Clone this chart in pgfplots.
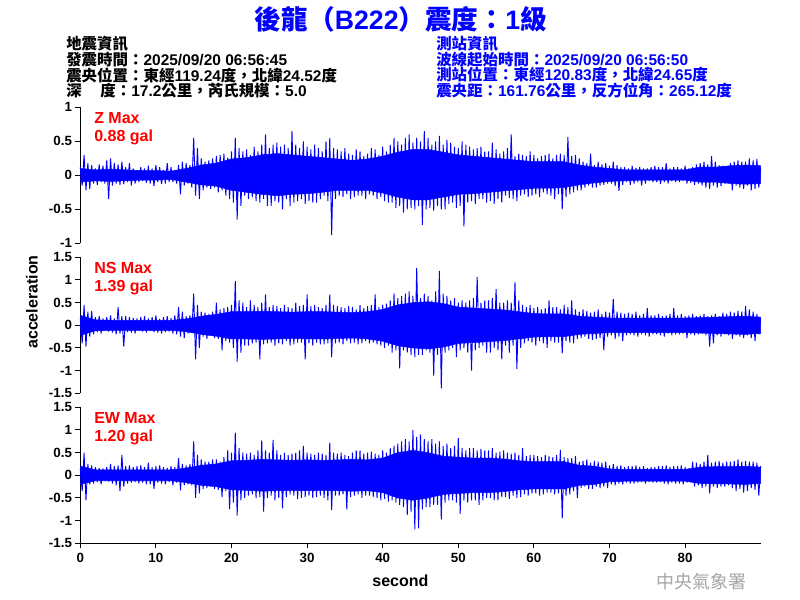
\documentclass[border=0pt]{standalone}
\usepackage{fontspec}
\setmainfont{Liberation Sans}
\newfontfamily\cjk{Noto Sans CJK TC}
\usepackage{pgfplots}
\pgfplotsset{compat=1.18}
\newcommand{\C}[1]{{\cjk #1}}
\definecolor{wmgray}{RGB}{165,165,165}
\pgfplotsset{
  wave/.style={
    scale only axis, width=510.3pt, height=102pt,
    xmin=0, xmax=90, anchor=north west,
    axis y line*=left,
    tick align=outside,
    major tick length=3.75pt,
    every tick/.style={black, line width=0.75pt},
    axis line style={black, line width=0.75pt},
    ticklabel style={font=\fontsize{10}{12}\selectfont\bfseries},
    yticklabel style={xshift=1pt},
    clip=false,
  },
  wave13/.style={wave, ymin=-1.5, ymax=1.5, ytick={-1.5,-1,-0.5,0,0.5,1,1.5},
    yticklabels={-1.5,-1,-0.5,0,0.5,1,1.5}},
  trace/.style={blue, line width=0.7pt, line join=bevel},
  core/.style={fill=blue, draw=blue, line width=0.4pt},
}
\begin{document}
\begin{tikzpicture}
\path[use as bounding box] (0pt,0pt) rectangle (600pt,-450pt);

% ---------------- Z ----------------
\begin{axis}[wave, at={(60.225pt,-80.475pt)}, ymin=-1, ymax=1, ytick={-1,-0.5,0,0.5,1},
  yticklabels={-1,-0.5,0,0.5,1}, axis x line=none]
% dense core of the trace (upper edge, then lower edge back)
\addplot[core] coordinates {
(0,0.10)(2,0.08)(4,0.09)(6,0.08)(8,0.07)(10,0.07)(12,0.06)(14,0.10)(16,0.15)(18,0.18)
(20,0.24)(22,0.26)(24,0.30)(26,0.32)(28,0.30)(30,0.28)(32,0.26)(34,0.24)(36,0.22)(38,0.24)
(40,0.28)(42,0.34)(44,0.38)(46,0.38)(48,0.34)(50,0.30)(52,0.28)(54,0.26)(56,0.24)(58,0.22)
(60,0.20)(62,0.20)(64,0.20)(66,0.15)(68,0.12)(70,0.10)(72,0.08)(74,0.08)(76,0.08)(78,0.08)
(80,0.08)(82,0.12)(84,0.12)(86,0.14)(88,0.15)(90,0.14)
(90,-0.12)(88,-0.13)(86,-0.12)(84,-0.10)(82,-0.10)(80,-0.07)(78,-0.07)(76,-0.07)(74,-0.07)(72,-0.08)
(70,-0.09)(68,-0.11)(66,-0.14)(64,-0.18)(62,-0.19)(60,-0.19)(58,-0.21)(56,-0.23)(54,-0.25)(52,-0.27)
(50,-0.28)(48,-0.32)(46,-0.36)(44,-0.36)(42,-0.32)(40,-0.26)(38,-0.22)(36,-0.22)(34,-0.22)(32,-0.25)
(30,-0.27)(28,-0.28)(26,-0.30)(24,-0.28)(22,-0.25)(20,-0.22)(18,-0.16)(16,-0.14)(14,-0.10)(12,-0.06)
(10,-0.07)(8,-0.07)(6,-0.08)(4,-0.09)(2,-0.08)(0,-0.10)
};
\addplot[trace] coordinates {
(0,0.12)(0.25,-0.15)(0.5,0.30)(0.75,-0.22)
(1,0.18)(1.25,-0.20)(1.5,0.15)(1.75,-0.12)
(2,0.10)(2.25,-0.14)(2.5,0.16)(2.75,-0.10)
(3,0.14)(3.25,-0.12)(3.5,0.22)(3.75,-0.35)
(4,0.25)(4.25,-0.15)(4.5,0.18)(4.75,-0.12)
(5,0.16)(5.25,-0.14)(5.5,0.20)(5.75,-0.13)
(6,0.12)(6.25,-0.10)(6.5,0.18)(6.75,-0.15)
(7,0.10)(7.25,-0.12)(7.5,0.08)(7.75,-0.10)
(8,0.12)(8.25,-0.08)(8.5,0.10)(8.75,-0.11)
(9,0.14)(9.25,-0.12)(9.5,0.10)(9.75,-0.16)
(10,0.15)(10.25,-0.10)(10.5,0.12)(10.75,-0.13)
(11,0.08)(11.25,-0.12)(11.5,0.18)(11.75,-0.10)
(12,0.12)(12.25,-0.10)(12.5,0.08)(12.75,-0.12)
(13,0.15)(13.25,-0.28)(13.5,0.20)(13.75,-0.15)
(14,0.18)(14.25,-0.12)(14.5,0.15)(14.75,-0.18)
(15,0.55)(15.25,-0.30)(15.5,0.40)(15.75,-0.35)
(16,0.25)(16.25,-0.22)(16.5,0.20)(16.75,-0.18)
(17,0.22)(17.25,-0.20)(17.5,0.25)(17.75,-0.18)
(18,0.28)(18.25,-0.25)(18.5,0.30)(18.75,-0.22)
(19,0.32)(19.25,-0.30)(19.5,0.26)(19.75,-0.35)
(20,0.35)(20.25,-0.40)(20.5,0.55)(20.75,-0.65)
(21,0.40)(21.25,-0.45)(21.5,0.35)(21.75,-0.30)
(22,0.38)(22.25,-0.35)(22.5,0.30)(22.75,-0.32)
(23,0.42)(23.25,-0.38)(23.5,0.35)(23.75,-0.40)
(24,0.45)(24.25,-0.35)(24.5,0.60)(24.75,-0.45)
(25,0.40)(25.25,-0.45)(25.5,0.45)(25.75,-0.38)
(26,0.48)(26.25,-0.40)(26.5,0.42)(26.75,-0.50)
(27,0.45)(27.25,-0.35)(27.5,0.40)(27.75,-0.45)
(28,0.65)(28.25,-0.40)(28.5,0.45)(28.75,-0.38)
(29,0.40)(29.25,-0.35)(29.5,0.50)(29.75,-0.42)
(30,0.42)(30.25,-0.38)(30.5,0.38)(30.75,-0.40)
(31,0.45)(31.25,-0.40)(31.5,0.40)(31.75,-0.35)
(32,0.35)(32.25,-0.30)(32.5,0.50)(32.75,-0.38)
(33,0.55)(33.25,-0.88)(33.5,0.40)(33.75,-0.35)
(34,0.38)(34.25,-0.30)(34.5,0.35)(34.75,-0.32)
(35,0.40)(35.25,-0.28)(35.5,0.32)(35.75,-0.35)
(36,0.30)(36.25,-0.32)(36.5,0.38)(36.75,-0.30)
(37,0.35)(37.25,-0.30)(37.5,0.28)(37.75,-0.35)
(38,0.32)(38.25,-0.28)(38.5,0.40)(38.75,-0.30)
(39,0.38)(39.25,-0.35)(39.5,0.30)(39.75,-0.32)
(40,0.42)(40.25,-0.38)(40.5,0.35)(40.75,-0.40)
(41,0.45)(41.25,-0.40)(41.5,0.55)(41.75,-0.48)
(42,0.50)(42.25,-0.45)(42.5,0.45)(42.75,-0.55)
(43,0.55)(43.25,-0.50)(43.5,0.60)(43.75,-0.48)
(44,0.48)(44.25,-0.50)(44.5,0.55)(44.75,-0.45)
(45,0.50)(45.25,-0.73)(45.5,0.65)(45.75,-0.50)
(46,0.55)(46.25,-0.48)(46.5,0.45)(46.75,-0.52)
(47,0.50)(47.25,-0.45)(47.5,0.58)(47.75,-0.50)
(48,0.45)(48.25,-0.50)(48.5,0.52)(48.75,-0.42)
(49,0.48)(49.25,-0.40)(49.5,0.42)(49.75,-0.48)
(50,0.40)(50.25,-0.45)(50.5,0.50)(50.75,-0.75)
(51,0.45)(51.25,-0.40)(51.5,0.42)(51.75,-0.38)
(52,0.38)(52.25,-0.42)(52.5,0.40)(52.75,-0.35)
(53,0.42)(53.25,-0.35)(53.5,0.35)(53.75,-0.40)
(54,0.35)(54.25,-0.38)(54.5,0.48)(54.75,-0.42)
(55,0.38)(55.25,-0.35)(55.5,0.32)(55.75,-0.40)
(56,0.35)(56.25,-0.30)(56.5,0.40)(56.75,-0.33)
(57,0.60)(57.25,-0.35)(57.5,0.28)(57.75,-0.38)
(58,0.32)(58.25,-0.30)(58.5,0.30)(58.75,-0.28)
(59,0.28)(59.25,-0.32)(59.5,0.35)(59.75,-0.30)
(60,0.30)(60.25,-0.28)(60.5,0.25)(60.75,-0.32)
(61,0.28)(61.25,-0.25)(61.5,0.30)(61.75,-0.28)
(62,0.32)(62.25,-0.30)(62.5,0.25)(62.75,-0.35)
(63,0.30)(63.25,-0.28)(63.5,0.32)(63.75,-0.50)
(64,0.30)(64.25,-0.32)(64.5,0.56)(64.75,-0.28)
(65,0.28)(65.25,-0.25)(65.5,0.30)(65.75,-0.22)
(66,0.25)(66.25,-0.22)(66.5,0.20)(66.75,-0.18)
(67,0.18)(67.25,-0.15)(67.5,0.32)(67.75,-0.18)
(68,0.15)(68.25,-0.18)(68.5,0.20)(68.75,-0.15)
(69,0.16)(69.25,-0.14)(69.5,0.18)(69.75,-0.12)
(70,0.14)(70.25,-0.12)(70.5,0.20)(70.75,-0.16)
(71,0.15)(71.25,-0.23)(71.5,0.12)(71.75,-0.14)
(72,0.12)(72.25,-0.10)(72.5,0.10)(72.75,-0.14)
(73,0.14)(73.25,-0.12)(73.5,0.11)(73.75,-0.10)
(74,0.12)(74.25,-0.15)(74.5,0.10)(74.75,-0.12)
(75,0.10)(75.25,-0.08)(75.5,0.12)(75.75,-0.10)
(76,0.14)(76.25,-0.10)(76.5,0.12)(76.75,-0.13)
(77,0.12)(77.25,-0.10)(77.5,0.18)(77.75,-0.12)
(78,0.10)(78.25,-0.09)(78.5,0.12)(78.75,-0.10)
(79,0.12)(79.25,-0.10)(79.5,0.10)(79.75,-0.08)
(80,0.14)(80.25,-0.12)(80.5,0.10)(80.75,-0.11)
(81,0.12)(81.25,-0.14)(81.5,0.16)(81.75,-0.12)
(82,0.18)(82.25,-0.15)(82.5,0.20)(82.75,-0.18)
(83,0.16)(83.25,-0.20)(83.5,0.28)(83.75,-0.15)
(84,0.20)(84.25,-0.18)(84.5,0.15)(84.75,-0.16)
(85,0.14)(85.25,-0.12)(85.5,0.12)(85.75,-0.10)
(86,0.18)(86.25,-0.22)(86.5,0.20)(86.75,-0.15)
(87,0.22)(87.25,-0.18)(87.5,0.20)(87.75,-0.20)
(88,0.20)(88.25,-0.15)(88.5,0.25)(88.75,-0.22)
(89,0.22)(89.25,-0.20)(89.5,0.24)(89.75,-0.18)
(90,0.10)
};
\end{axis}

% ---------------- NS ----------------
\begin{axis}[wave13, at={(60.225pt,-192.975pt)}, axis x line=none]
\addplot[core] coordinates {
(0,0.22)(2,0.12)(4,0.11)(6,0.11)(8,0.11)(10,0.11)(12,0.11)(14,0.14)(16,0.20)(18,0.24)
(20,0.30)(22,0.30)(24,0.31)(26,0.30)(28,0.29)(30,0.30)(32,0.30)(34,0.29)(36,0.28)(38,0.30)
(40,0.35)(42,0.45)(44,0.50)(46,0.52)(48,0.48)(50,0.40)(52,0.38)(54,0.36)(56,0.34)(58,0.30)
(60,0.26)(62,0.25)(64,0.25)(66,0.20)(68,0.18)(70,0.16)(72,0.16)(74,0.16)(76,0.16)(78,0.16)
(80,0.16)(82,0.17)(84,0.18)(86,0.19)(88,0.20)(90,0.18)
(90,-0.18)(88,-0.20)(86,-0.19)(84,-0.18)(82,-0.17)(80,-0.16)(78,-0.16)(76,-0.16)(74,-0.16)(72,-0.16)
(70,-0.16)(68,-0.18)(66,-0.20)(64,-0.25)(62,-0.25)(60,-0.26)(58,-0.30)(56,-0.34)(54,-0.36)(52,-0.38)
(50,-0.40)(48,-0.48)(46,-0.52)(44,-0.50)(42,-0.45)(40,-0.35)(38,-0.30)(36,-0.28)(34,-0.29)(32,-0.30)
(30,-0.30)(28,-0.29)(26,-0.30)(24,-0.31)(22,-0.30)(20,-0.30)(18,-0.24)(16,-0.20)(14,-0.14)(12,-0.11)
(10,-0.11)(8,-0.11)(6,-0.11)(4,-0.11)(2,-0.12)(0,-0.22)
};
\addplot[trace] coordinates {
(0,0.15)(0.25,-0.40)(0.5,0.45)(0.75,-0.47)
(1,0.30)(1.25,-0.25)(1.5,0.32)(1.75,-0.20)
(2,0.18)(2.25,-0.15)(2.5,0.20)(2.75,-0.18)
(3,0.15)(3.25,-0.12)(3.5,0.18)(3.75,-0.14)
(4,0.22)(4.25,-0.16)(4.5,0.15)(4.75,-0.20)
(5,0.40)(5.25,-0.18)(5.5,0.20)(5.75,-0.47)
(6,0.20)(6.25,-0.15)(6.5,0.18)(6.75,-0.16)
(7,0.16)(7.25,-0.18)(7.5,0.15)(7.75,-0.12)
(8,0.18)(8.25,-0.14)(8.5,0.20)(8.75,-0.16)
(9,0.15)(9.25,-0.12)(9.5,0.18)(9.75,-0.15)
(10,0.22)(10.25,-0.16)(10.5,0.14)(10.75,-0.18)
(11,0.18)(11.25,-0.15)(11.5,0.20)(11.75,-0.14)
(12,0.16)(12.25,-0.18)(12.5,0.22)(12.75,-0.20)
(13,0.40)(13.25,-0.25)(13.5,0.30)(13.75,-0.28)
(14,0.20)(14.25,-0.18)(14.5,0.22)(14.75,-0.16)
(15,0.70)(15.25,-0.75)(15.5,0.45)(15.75,-0.50)
(16,0.30)(16.25,-0.25)(16.5,0.28)(16.75,-0.30)
(17,0.25)(17.25,-0.22)(17.5,0.30)(17.75,-0.28)
(18,0.50)(18.25,-0.30)(18.5,0.35)(18.75,-0.55)
(19,0.38)(19.25,-0.35)(19.5,0.40)(19.75,-0.38)
(20,0.45)(20.25,-0.50)(20.5,0.98)(20.75,-0.80)
(21,0.55)(21.25,-0.60)(21.5,0.50)(21.75,-0.45)
(22,0.40)(22.25,-0.45)(22.5,0.55)(22.75,-0.40)
(23,0.45)(23.25,-0.38)(23.5,0.40)(23.75,-0.75)
(24,0.50)(24.25,-0.42)(24.5,0.68)(24.75,-0.40)
(25,0.40)(25.25,-0.38)(25.5,0.45)(25.75,-0.45)
(26,0.42)(26.25,-0.40)(26.5,0.38)(26.75,-0.42)
(27,0.45)(27.25,-0.35)(27.5,0.40)(27.75,-0.45)
(28,0.38)(28.25,-0.42)(28.5,0.50)(28.75,-0.38)
(29,0.42)(29.25,-0.38)(29.5,0.45)(29.75,-0.75)
(30,0.68)(30.25,-0.40)(30.5,0.42)(30.75,-0.45)
(31,0.45)(31.25,-0.38)(31.5,0.40)(31.75,-0.42)
(32,0.38)(32.25,-0.42)(32.5,0.45)(32.75,-0.40)
(33,0.68)(33.25,-0.70)(33.5,0.45)(33.75,-0.40)
(34,0.42)(34.25,-0.38)(34.5,0.40)(34.75,-0.42)
(35,0.38)(35.25,-0.35)(35.5,0.42)(35.75,-0.40)
(36,0.40)(36.25,-0.38)(36.5,0.35)(36.75,-0.42)
(37,0.45)(37.25,-0.40)(37.5,0.38)(37.75,-0.35)
(38,0.42)(38.25,-0.40)(38.5,0.45)(38.75,-0.38)
(39,0.68)(39.25,-0.42)(39.5,0.40)(39.75,-0.45)
(40,0.45)(40.25,-0.50)(40.5,0.48)(40.75,-0.45)
(41,0.55)(41.25,-0.60)(41.5,0.70)(41.75,-0.55)
(42,0.60)(42.25,-0.95)(42.5,0.65)(42.75,-0.55)
(43,0.70)(43.25,-0.60)(43.5,0.75)(43.75,-0.65)
(44,0.65)(44.25,-0.70)(44.5,1.26)(44.75,-0.65)
(45,0.60)(45.25,-0.65)(45.5,0.70)(45.75,-0.55)
(46,0.65)(46.25,-0.60)(46.5,0.55)(46.75,-1.11)
(47,0.75)(47.25,-0.65)(47.5,1.20)(47.75,-1.39)
(48,0.70)(48.25,-0.60)(48.5,0.65)(48.75,-0.55)
(49,0.55)(49.25,-0.50)(49.5,0.60)(49.75,-0.70)
(50,0.50)(50.25,-0.55)(50.5,0.55)(50.75,-0.50)
(51,0.50)(51.25,-0.60)(51.5,0.55)(51.75,-1.00)
(52,0.60)(52.25,-0.55)(52.5,1.07)(52.75,-0.50)
(53,0.50)(53.25,-0.45)(53.5,0.55)(53.75,-0.60)
(54,0.55)(54.25,-0.60)(54.5,0.60)(54.75,-0.50)
(55,0.80)(55.25,-0.55)(55.5,0.50)(55.75,-0.75)
(56,0.50)(56.25,-0.45)(56.5,0.55)(56.75,-0.60)
(57,0.50)(57.25,-0.45)(57.5,0.95)(57.75,-0.96)
(58,0.55)(58.25,-0.50)(58.5,0.45)(58.75,-0.40)
(59,0.40)(59.25,-0.35)(59.5,0.45)(59.75,-0.38)
(60,0.38)(60.25,-0.45)(60.5,0.40)(60.75,-0.35)
(61,0.35)(61.25,-0.40)(61.5,0.38)(61.75,-0.50)
(62,0.55)(62.25,-0.35)(62.5,0.40)(62.75,-0.38)
(63,0.40)(63.25,-0.38)(63.5,0.35)(63.75,-0.62)
(64,0.45)(64.25,-0.35)(64.5,0.40)(64.75,-0.38)
(65,0.55)(65.25,-0.40)(65.5,0.35)(65.75,-0.30)
(66,0.30)(66.25,-0.28)(66.5,0.35)(66.75,-0.25)
(67,0.32)(67.25,-0.30)(67.5,0.28)(67.75,-0.32)
(68,0.30)(68.25,-0.30)(68.5,0.35)(68.75,-0.28)
(69,0.25)(69.25,-0.55)(69.5,0.30)(69.75,-0.25)
(70,0.28)(70.25,-0.22)(70.5,0.58)(70.75,-0.30)
(71,0.30)(71.25,-0.25)(71.5,0.28)(71.75,-0.35)
(72,0.25)(72.25,-0.22)(72.5,0.28)(72.75,-0.20)
(73,0.25)(73.25,-0.22)(73.5,0.30)(73.75,-0.25)
(74,0.22)(74.25,-0.20)(74.5,0.25)(74.75,-0.22)
(75,0.38)(75.25,-0.25)(75.5,0.22)(75.75,-0.20)
(76,0.22)(76.25,-0.20)(76.5,0.25)(76.75,-0.22)
(77,0.20)(77.25,-0.25)(77.5,0.22)(77.75,-0.18)
(78,0.25)(78.25,-0.22)(78.5,0.38)(78.75,-0.20)
(79,0.22)(79.25,-0.20)(79.5,0.25)(79.75,-0.18)
(80,0.20)(80.25,-0.28)(80.5,0.22)(80.75,-0.20)
(81,0.25)(81.25,-0.22)(81.5,0.20)(81.75,-0.20)
(82,0.22)(82.25,-0.18)(82.5,0.25)(82.75,-0.22)
(83,0.20)(83.25,-0.47)(83.5,0.22)(83.75,-0.40)
(84,0.25)(84.25,-0.22)(84.5,0.20)(84.75,-0.25)
(85,0.28)(85.25,-0.20)(85.5,0.25)(85.75,-0.22)
(86,0.30)(86.25,-0.30)(86.5,0.28)(86.75,-0.22)
(87,0.32)(87.25,-0.25)(87.5,0.30)(87.75,-0.28)
(88,0.42)(88.25,-0.22)(88.5,0.35)(88.75,-0.28)
(89,0.30)(89.25,-0.35)(89.5,0.25)(89.75,-0.20)
(90,0.15)
};
\end{axis}

% ---------------- EW ----------------
\begin{axis}[wave13, at={(60.225pt,-305.475pt)}, axis x line*=bottom,
  xtick={0,10,20,30,40,50,60,70,80}, xticklabels={0,10,20,30,40,50,60,70,80}]
\addplot[core] coordinates {
(0,0.20)(2,0.12)(4,0.12)(6,0.12)(8,0.12)(10,0.12)(12,0.12)(14,0.16)(16,0.22)(18,0.25)
(20,0.32)(22,0.33)(24,0.35)(26,0.34)(28,0.33)(30,0.34)(32,0.33)(34,0.34)(36,0.35)(38,0.34)
(40,0.38)(42,0.50)(44,0.55)(46,0.50)(48,0.42)(50,0.40)(52,0.38)(54,0.38)(56,0.36)(58,0.32)
(60,0.30)(62,0.30)(64,0.30)(66,0.22)(68,0.20)(70,0.14)(72,0.13)(74,0.13)(76,0.13)(78,0.13)
(80,0.13)(82,0.18)(84,0.19)(86,0.19)(88,0.20)(90,0.18)
(90,-0.18)(88,-0.20)(86,-0.19)(84,-0.19)(82,-0.18)(80,-0.13)(78,-0.13)(76,-0.13)(74,-0.13)(72,-0.13)
(70,-0.14)(68,-0.20)(66,-0.22)(64,-0.30)(62,-0.30)(60,-0.30)(58,-0.32)(56,-0.36)(54,-0.38)(52,-0.38)
(50,-0.40)(48,-0.42)(46,-0.50)(44,-0.55)(42,-0.50)(40,-0.38)(38,-0.34)(36,-0.35)(34,-0.34)(32,-0.33)
(30,-0.34)(28,-0.33)(26,-0.34)(24,-0.35)(22,-0.33)(20,-0.32)(18,-0.25)(16,-0.22)(14,-0.16)(12,-0.12)
(10,-0.12)(8,-0.12)(6,-0.12)(4,-0.12)(2,-0.12)(0,-0.20)
};
\addplot[trace] coordinates {
(0,0.15)(0.25,-0.35)(0.5,0.50)(0.75,-0.55)
(1,0.25)(1.25,-0.20)(1.5,0.22)(1.75,-0.18)
(2,0.18)(2.25,-0.15)(2.5,0.16)(2.75,-0.20)
(3,0.15)(3.25,-0.12)(3.5,0.18)(3.75,-0.14)
(4,0.25)(4.25,-0.18)(4.5,0.20)(4.75,-0.22)
(5,0.22)(5.25,-0.35)(5.5,0.45)(5.75,-0.25)
(6,0.20)(6.25,-0.18)(6.5,0.22)(6.75,-0.16)
(7,0.18)(7.25,-0.15)(7.5,0.20)(7.75,-0.18)
(8,0.22)(8.25,-0.16)(8.5,0.18)(8.75,-0.20)
(9,0.28)(9.25,-0.20)(9.5,0.18)(9.75,-0.30)
(10,0.20)(10.25,-0.16)(10.5,0.22)(10.75,-0.18)
(11,0.18)(11.25,-0.20)(11.5,0.16)(11.75,-0.15)
(12,0.20)(12.25,-0.22)(12.5,0.18)(12.75,-0.16)
(13,0.38)(13.25,-0.33)(13.5,0.25)(13.75,-0.22)
(14,0.22)(14.25,-0.20)(14.5,0.25)(14.75,-0.22)
(15,0.75)(15.25,-0.50)(15.5,0.45)(15.75,-0.40)
(16,0.35)(16.25,-0.30)(16.5,0.30)(16.75,-0.28)
(17,0.30)(17.25,-0.25)(17.5,0.35)(17.75,-0.30)
(18,0.35)(18.25,-0.32)(18.5,0.30)(18.75,-0.48)
(19,0.40)(19.25,-0.35)(19.5,0.55)(19.75,-0.75)
(20,0.50)(20.25,-0.60)(20.5,0.94)(20.75,-0.89)
(21,0.60)(21.25,-0.55)(21.5,0.50)(21.75,-0.50)
(22,0.48)(22.25,-0.45)(22.5,0.50)(22.75,-0.42)
(23,0.45)(23.25,-0.50)(23.5,0.55)(23.75,-0.48)
(24,0.77)(24.25,-0.80)(24.5,0.55)(24.75,-0.50)
(25,0.50)(25.25,-0.45)(25.5,0.78)(25.75,-0.55)
(26,0.55)(26.25,-0.50)(26.5,0.45)(26.75,-0.73)
(27,0.50)(27.25,-0.48)(27.5,0.45)(27.75,-0.42)
(28,0.48)(28.25,-0.45)(28.5,0.50)(28.75,-0.52)
(29,0.55)(29.25,-0.50)(29.5,0.65)(29.75,-0.48)
(30,0.50)(30.25,-0.45)(30.5,0.48)(30.75,-0.50)
(31,0.45)(31.25,-0.48)(31.5,0.50)(31.75,-0.45)
(32,0.48)(32.25,-0.50)(32.5,0.45)(32.75,-0.55)
(33,0.72)(33.25,-0.77)(33.5,0.50)(33.75,-0.45)
(34,0.48)(34.25,-0.45)(34.5,0.50)(34.75,-0.42)
(35,0.45)(35.25,-0.75)(35.5,0.42)(35.75,-0.48)
(36,0.50)(36.25,-0.45)(36.5,0.55)(36.75,-0.42)
(37,0.55)(37.25,-0.50)(37.5,0.48)(37.75,-0.45)
(38,0.50)(38.25,-0.45)(38.5,0.52)(38.75,-0.48)
(39,0.48)(39.25,-0.50)(39.5,0.45)(39.75,-0.55)
(40,0.55)(40.25,-0.52)(40.5,0.50)(40.75,-0.58)
(41,0.60)(41.25,-0.55)(41.5,0.65)(41.75,-0.60)
(42,0.70)(42.25,-0.65)(42.5,0.75)(42.75,-0.70)
(43,0.80)(43.25,-0.88)(43.5,0.75)(43.75,-0.80)
(44,1.00)(44.25,-1.19)(44.5,0.85)(44.75,-1.17)
(45,0.90)(45.25,-0.75)(45.5,0.80)(45.75,-0.70)
(46,0.75)(46.25,-0.70)(46.5,0.80)(46.75,-0.65)
(47,0.70)(47.25,-0.65)(47.5,0.75)(47.75,-0.97)
(48,0.65)(48.25,-0.60)(48.5,0.70)(48.75,-0.55)
(49,0.60)(49.25,-0.55)(49.5,0.65)(49.75,-0.60)
(50,0.82)(50.25,-0.85)(50.5,0.60)(50.75,-0.55)
(51,0.55)(51.25,-0.60)(51.5,0.60)(51.75,-0.55)
(52,0.60)(52.25,-0.55)(52.5,0.55)(52.75,-0.65)
(53,0.58)(53.25,-0.55)(53.5,0.55)(53.75,-0.50)
(54,0.55)(54.25,-0.50)(54.5,0.60)(54.75,-0.55)
(55,0.50)(55.25,-0.55)(55.5,0.52)(55.75,-0.48)
(56,0.55)(56.25,-0.48)(56.5,0.50)(56.75,-0.52)
(57,0.48)(57.25,-0.45)(57.5,0.50)(57.75,-0.50)
(58,0.45)(58.25,-0.48)(58.5,0.60)(58.75,-0.42)
(59,0.42)(59.25,-0.45)(59.5,0.45)(59.75,-0.40)
(60,0.45)(60.25,-0.40)(60.5,0.42)(60.75,-0.45)
(61,0.40)(61.25,-0.42)(61.5,0.45)(61.75,-0.38)
(62,0.42)(62.25,-0.38)(62.5,0.40)(62.75,-0.42)
(63,0.45)(63.25,-0.40)(63.5,0.56)(63.75,-0.95)
(64,0.40)(64.25,-0.45)(64.5,0.38)(64.75,-0.42)
(65,0.38)(65.25,-0.35)(65.5,0.42)(65.75,-0.50)
(66,0.30)(66.25,-0.28)(66.5,0.32)(66.75,-0.25)
(67,0.35)(67.25,-0.30)(67.5,0.28)(67.75,-0.30)
(68,0.32)(68.25,-0.25)(68.5,0.30)(68.75,-0.28)
(69,0.28)(69.25,-0.25)(69.5,0.30)(69.75,-0.28)
(70,0.22)(70.25,-0.20)(70.5,0.25)(70.75,-0.22)
(71,0.20)(71.25,-0.18)(71.5,0.22)(71.75,-0.20)
(72,0.18)(72.25,-0.16)(72.5,0.20)(72.75,-0.18)
(73,0.20)(73.25,-0.18)(73.5,0.22)(73.75,-0.16)
(74,0.18)(74.25,-0.15)(74.5,0.20)(74.75,-0.18)
(75,0.16)(75.25,-0.15)(75.5,0.18)(75.75,-0.16)
(76,0.18)(76.25,-0.16)(76.5,0.20)(76.75,-0.15)
(77,0.20)(77.25,-0.18)(77.5,0.22)(77.75,-0.20)
(78,0.18)(78.25,-0.16)(78.5,0.20)(78.75,-0.18)
(79,0.20)(79.25,-0.18)(79.5,0.22)(79.75,-0.20)
(80,0.18)(80.25,-0.16)(80.5,0.15)(80.75,-0.15)
(81,0.30)(81.25,-0.25)(81.5,0.28)(81.75,-0.22)
(82,0.25)(82.25,-0.28)(82.5,0.30)(82.75,-0.25)
(83,0.45)(83.25,-0.40)(83.5,0.28)(83.75,-0.25)
(84,0.30)(84.25,-0.28)(84.5,0.32)(84.75,-0.25)
(85,0.28)(85.25,-0.25)(85.5,0.30)(85.75,-0.22)
(86,0.30)(86.25,-0.28)(86.5,0.32)(86.75,-0.35)
(87,0.35)(87.25,-0.30)(87.5,0.30)(87.75,-0.38)
(88,0.32)(88.25,-0.35)(88.5,0.30)(88.75,-0.28)
(89,0.30)(89.25,-0.32)(89.5,0.28)(89.75,-0.45)
(90,0.20)
};
\end{axis}

% ---------------- texts ----------------
\begin{scope}[x=0.75pt,y=-0.75pt]
\node[text=blue, font=\fontsize{20}{24}\selectfont\bfseries] at (400.8,19)
  {\C{後龍（}B222\C{）震度：}1\C{級}};

\begin{scope}[every node/.style={anchor=west, inner sep=0pt, font=\fontsize{11.6}{14}\selectfont\bfseries}]
\node at (66,43.3) {\C{地震資訊}};
\node at (66,59.3) {\C{發震時間：}2025/09/20 06:56:45};
\node at (66,75.3) {\C{震央位置：東經}119.24\C{度，北緯}24.52\C{度}};
\node at (66,90.7) {\C{深}\hspace{14pt}\C{度：}17.2\C{公里，芮氏規模：}5.0};
\node[text=blue] at (436,44) {\C{測站資訊}};
\node[text=blue] at (436,59.3) {\C{波線起始時間：}2025/09/20 06:56:50};
\node[text=blue] at (436,75) {\C{測站位置：東經}120.83\C{度，北緯}24.65\C{度}};
\node[text=blue] at (436,91) {\C{震央距：}161.76\C{公里，反方位角：}265.12\C{度}};
\end{scope}

\begin{scope}[every node/.style={anchor=west, inner sep=0pt, text=red, font=\fontsize{12}{14}\selectfont\bfseries}]
\node at (94,118.3) {Z Max};
\node at (94,137.3) {0.88 gal};
\node at (94,268.3) {NS Max};
\node at (94,287.3) {1.39 gal};
\node at (94,418.3) {EW Max};
\node at (94,437.3) {1.20 gal};
\end{scope}

\node[rotate=90, font=\fontsize{12}{14}\selectfont\bfseries] at (32,302) {acceleration};
\node[font=\fontsize{12}{14}\selectfont\bfseries] at (400.4,581) {second};
\node[text=wmgray, font=\fontsize{13.5}{16}\selectfont] at (701.7,581.7) {\C{中央氣象署}};
\end{scope}
\end{tikzpicture}
\end{document}
